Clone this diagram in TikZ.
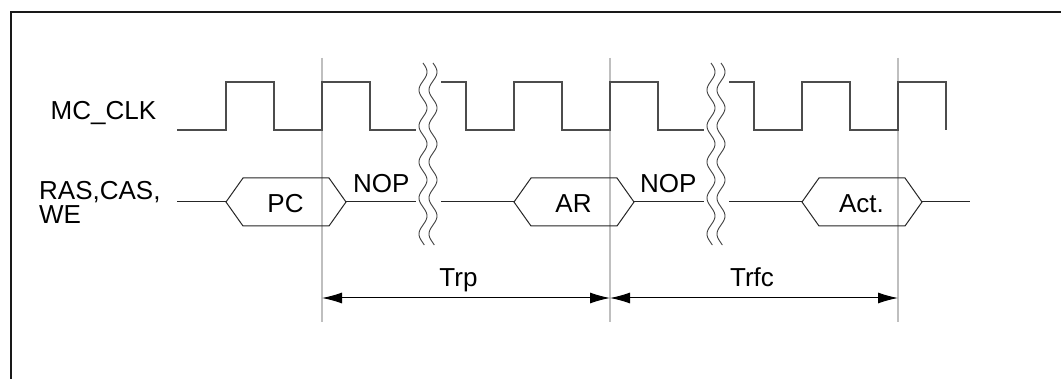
\documentclass[tikz,border=0pt]{standalone}
\usepackage{fontspec}
\setmainfont{Liberation Sans}
\usetikzlibrary{arrows.meta}
\begin{document}
\begin{tikzpicture}[x=1pt,y=-1pt,
  lbl/.style={inner sep=0pt,font=\fontsize{26}{22}\selectfont},
  grid/.style={draw=black!25,line width=1.6pt},
  clk/.style={draw=black!70,line width=1.5pt},
  bus/.style={draw=black!85,line width=1pt,line join=miter},
  wave/.style={draw=black!75,line width=0.9pt},
  dim/.style={draw=black,line width=1pt,{Latex[length=20pt,width=11pt]}-{Latex[length=20pt,width=11pt]}},
  frame/.style={draw=black!90,line width=2.5pt}]
\useasboundingbox (0,0) rectangle (1061,379);
\fill[white] (0,0) rectangle (1061,379);
% frame
\draw[frame] (11,379) -- (11,12) -- (1061,12);
% grid lines
\coordinate (g1t) at (322,58); \coordinate (g1b) at (322,322);
\coordinate (g2t) at (610,58); \coordinate (g2b) at (610,322);
\coordinate (g3t) at (898,58); \coordinate (g3b) at (898,322);
\draw[grid] (g1t) -- (g1b);
\draw[grid] (g2t) -- (g2b);
\draw[grid] (g3t) -- (g3b);
% clock
\draw[clk] (177,130) -- (226,130) -- (226,82) -- (274,82) -- (274,130) -- (322,130) -- (322,82) -- (370,82) -- (370,130) -- (416,130);
\draw[clk] (441,82) -- (466,82) -- (466,130) -- (514,130) -- (514,82) -- (562,82) -- (562,130) -- (610,130) -- (610,82) -- (658,82) -- (658,130) -- (704,130);
\draw[clk] (729,82) -- (754,82) -- (754,130) -- (802,130) -- (802,82) -- (850,82) -- (850,130) -- (898,130) -- (898,82) -- (946,82) -- (946,130);
% bus
\draw[bus] (177,202) -- (226,202);
\draw[bus] (226,202) -- (243,178) -- (329,178) -- (346,202) -- (329,226) -- (243,226) -- cycle;
\draw[bus] (346,202) -- (416,202);
\draw[bus] (441,202) -- (514,202);
\draw[bus] (514,202) -- (531,178) -- (617,178) -- (634,202) -- (617,226) -- (531,226) -- cycle;
\draw[bus] (634,202) -- (704,202);
\draw[bus] (729,202) -- (802,202);
\draw[bus] (802,202) -- (819,178) -- (905,178) -- (922,202) -- (905,226) -- (819,226) -- cycle;
\draw[bus] (922,202) -- (970,202);
% break marks
\foreach \xo in {423,433,711,721}{
  \draw[wave] plot[domain=63:245,samples=120,smooth] ({\xo+4*sin((\x-63)*10)},\x);
}
% labels
\node[lbl,anchor=base west] (clk) at (50.5,120) {MC\_CLK};
\node[lbl,anchor=base west] (ras) at (39,200) {RAS,CAS,};
\node[lbl,anchor=base west] (we) at (39,223.5) {WE};
\node[lbl,anchor=base] (pc) at (285.5,212.5) {PC};
\node[lbl,anchor=base west] (nop1) at (353,193) {NOP};
\node[lbl,anchor=base] (ar) at (573.5,212.5) {AR};
\node[lbl,anchor=base west] (nop2) at (640,193) {NOP};
\node[lbl,anchor=base] (act) at (861.5,212.5) {Act.};
\node[lbl,anchor=base] (trp) at (458.5,287) {Trp};
\node[lbl,anchor=base] (trfc) at (752,287) {Trfc};
% dimension arrows
\coordinate (a1) at (322,298); \coordinate (a2) at (610,298); \coordinate (a3) at (898,298);
\draw[dim] (a1) -- (a2);
\draw[dim] (a2) -- (a3);
\end{tikzpicture}
\end{document}
